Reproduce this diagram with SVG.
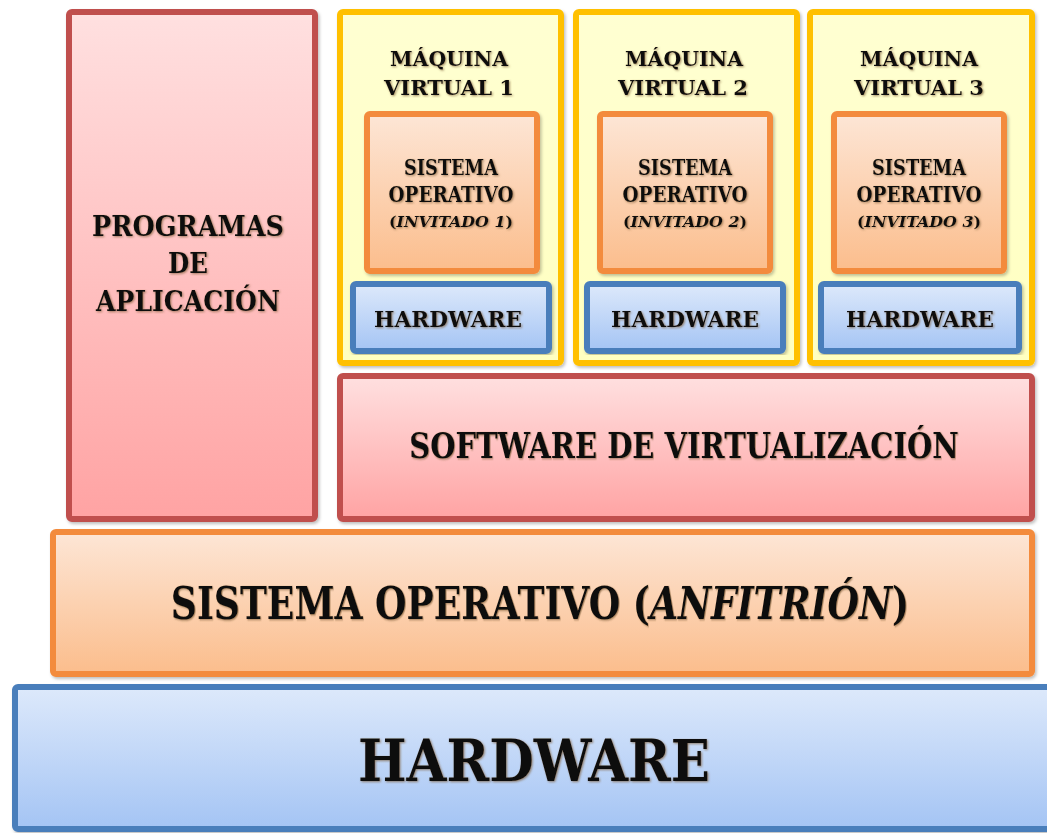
<svg xmlns="http://www.w3.org/2000/svg" width="1047" height="833" viewBox="0 0 1047 833">
<defs>
<linearGradient id="gRed" x1="0" y1="0" x2="0" y2="1"><stop offset="0" stop-color="#ffe0e0"/><stop offset="1" stop-color="#ffa3a3"/></linearGradient>
<linearGradient id="gOrange" x1="0" y1="0" x2="0" y2="1"><stop offset="0" stop-color="#fde6d6"/><stop offset="1" stop-color="#fbbd8c"/></linearGradient>
<linearGradient id="gBlue" x1="0" y1="0" x2="0" y2="1"><stop offset="0" stop-color="#dde9fb"/><stop offset="1" stop-color="#a4c4f4"/></linearGradient>
<linearGradient id="gYellow" x1="0" y1="0" x2="0" y2="1"><stop offset="0" stop-color="#ffffd2"/><stop offset="1" stop-color="#ffffc0"/></linearGradient>
<filter id="sh" x="-10%" y="-20%" width="120%" height="140%"><feDropShadow dx="1" dy="1" stdDeviation="0.8" flood-color="#7a5a30" flood-opacity="0.7"/></filter>
<filter id="bsh" x="-5%" y="-5%" width="110%" height="110%"><feDropShadow dx="1.5" dy="2" stdDeviation="1.5" flood-color="#000" flood-opacity="0.25"/></filter>
</defs>
<style>
.box{stroke-width:6;filter:url(#bsh)}
.red{fill:url(#gRed);stroke:#c0504d}
.orange{fill:url(#gOrange);stroke:#f38b3c}
.blue{fill:url(#gBlue);stroke:#4a7ebb}
.yellow{fill:url(#gYellow);stroke:#ffc000}
text{font-family:"DejaVu Serif","Liberation Serif",serif;font-weight:bold;fill:#111;text-anchor:middle;filter:url(#sh)}
.it{font-style:italic}
</style>
<rect width="1047" height="833" fill="#ffffff"/>
<g id="connectors"></g>

<g id="hardware">
<rect class="box blue" x="15" y="687" width="1040" height="142" rx="3"/>
<text x="534" y="781" font-size="58" textLength="352" lengthAdjust="spacingAndGlyphs">HARDWARE</text>
</g>

<g id="so-anfitrion">
<rect class="box orange" x="53" y="532" width="979" height="142" rx="3"/>
<text transform="translate(540,619) scale(0.822,1)" font-size="44">SISTEMA OPERATIVO (<tspan class="it">ANFITRIÓN</tspan>)</text>
</g>

<g id="programas">
<rect class="box red" x="69" y="12" width="246" height="507" rx="3"/>
<text x="188" y="236" font-size="27" textLength="192" lengthAdjust="spacingAndGlyphs">PROGRAMAS</text>
<text x="188" y="273" font-size="27" textLength="40" lengthAdjust="spacingAndGlyphs">DE</text>
<text x="188" y="311" font-size="27" textLength="184" lengthAdjust="spacingAndGlyphs">APLICACIÓN</text>
</g>

<g id="software-virtualizacion">
<rect class="box red" x="340" y="376" width="692" height="143" rx="3"/>
<text transform="translate(684,458) scale(0.806,1)" font-size="36">SOFTWARE DE VIRTUALIZACIÓN</text>
</g>

<g id="vm1">
<rect class="box yellow" x="340" y="12" width="221" height="351" rx="3"/>
<text x="449" y="66" font-size="21" textLength="118" lengthAdjust="spacingAndGlyphs">MÁQUINA</text>
<text x="449" y="95" font-size="21" textLength="130" lengthAdjust="spacingAndGlyphs">VIRTUAL 1</text>
</g>
<g id="vm1-so">
<rect class="box orange" x="367" y="114" width="170" height="157" rx="3"/>
<text x="451" y="175" font-size="22" textLength="94" lengthAdjust="spacingAndGlyphs">SISTEMA</text>
<text x="451" y="202" font-size="22" textLength="125" lengthAdjust="spacingAndGlyphs">OPERATIVO</text>
<text x="451" y="227" font-size="14" textLength="124" lengthAdjust="spacingAndGlyphs">(<tspan class="it">INVITADO 1</tspan>)</text>
</g>
<g id="vm1-hw">
<rect class="box blue" x="353" y="284" width="196" height="67" rx="3"/>
<text x="448" y="327" font-size="23" textLength="148" lengthAdjust="spacingAndGlyphs">HARDWARE</text>
</g>

<g id="vm2">
<rect class="box yellow" x="576" y="12" width="221" height="351" rx="3"/>
<text x="684" y="66" font-size="21" textLength="118" lengthAdjust="spacingAndGlyphs">MÁQUINA</text>
<text x="683" y="95" font-size="21" textLength="130" lengthAdjust="spacingAndGlyphs">VIRTUAL 2</text>
</g>
<g id="vm2-so">
<rect class="box orange" x="600" y="114" width="170" height="157" rx="3"/>
<text x="685" y="175" font-size="22" textLength="94" lengthAdjust="spacingAndGlyphs">SISTEMA</text>
<text x="685" y="202" font-size="22" textLength="125" lengthAdjust="spacingAndGlyphs">OPERATIVO</text>
<text x="685" y="227" font-size="14" textLength="124" lengthAdjust="spacingAndGlyphs">(<tspan class="it">INVITADO 2</tspan>)</text>
</g>
<g id="vm2-hw">
<rect class="box blue" x="587" y="284" width="196" height="67" rx="3"/>
<text x="685" y="327" font-size="23" textLength="148" lengthAdjust="spacingAndGlyphs">HARDWARE</text>
</g>

<g id="vm3">
<rect class="box yellow" x="810" y="12" width="222" height="351" rx="3"/>
<text x="919" y="66" font-size="21" textLength="118" lengthAdjust="spacingAndGlyphs">MÁQUINA</text>
<text x="919" y="95" font-size="21" textLength="130" lengthAdjust="spacingAndGlyphs">VIRTUAL 3</text>
</g>
<g id="vm3-so">
<rect class="box orange" x="834" y="114" width="170" height="157" rx="3"/>
<text x="919" y="175" font-size="22" textLength="94" lengthAdjust="spacingAndGlyphs">SISTEMA</text>
<text x="919" y="202" font-size="22" textLength="125" lengthAdjust="spacingAndGlyphs">OPERATIVO</text>
<text x="919" y="227" font-size="14" textLength="124" lengthAdjust="spacingAndGlyphs">(<tspan class="it">INVITADO 3</tspan>)</text>
</g>
<g id="vm3-hw">
<rect class="box blue" x="821" y="284" width="198" height="67" rx="3"/>
<text x="920" y="327" font-size="23" textLength="148" lengthAdjust="spacingAndGlyphs">HARDWARE</text>
</g>
</svg>
